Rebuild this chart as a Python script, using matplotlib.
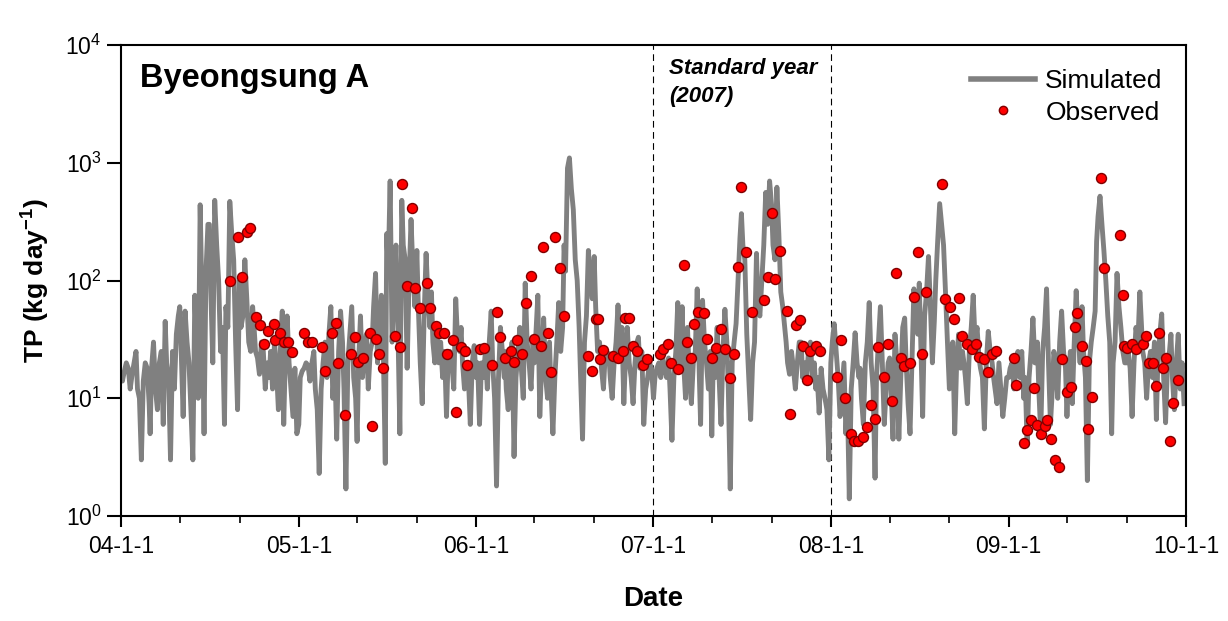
import matplotlib
matplotlib.use("Agg")
import matplotlib.pyplot as plt
import matplotlib.dates as mdates
from matplotlib.lines import Line2D
from matplotlib.ticker import FuncFormatter
import pandas as pd

plt.rcParams['font.family'] = ['Liberation Sans', 'DejaVu Sans']
plt.rcParams['mathtext.fontset'] = 'custom'
plt.rcParams['mathtext.rm'] = 'Liberation Sans'
plt.rcParams['mathtext.bf'] = 'Liberation Sans:bold'

# simulated TP load, 8 readings per month (days 1, 4, 8, 12, 16, 20, 24, 28)
sim_2004 = [16, 14, 17, 20, 18, 12, 16, 20,   25, 12, 10, 3, 14, 20, 18, 9,
            5, 18, 30, 12, 8, 20, 25, 6,      45, 20, 15, 3, 25, 12, 35, 50,
            60, 25, 7, 55, 30, 20, 8, 3,      75, 30, 10, 440, 60, 5, 120, 300,
            300, 80, 20, 480, 200, 100, 25, 40,  6, 60, 40, 470, 250, 150, 30, 8,
            100, 40, 50, 150, 70, 30, 25, 60,  40, 25, 22, 16, 30, 25, 12, 20,
            15, 25, 12, 30, 18, 8, 25, 55,    6, 20, 50, 20, 12, 7, 18, 5]
sim_2005 = [6, 15, 17, 18, 20, 19, 14, 20,    25, 12, 8, 2.3, 12, 20, 30, 15,
            20, 35, 60, 10, 20, 4.5, 25, 55,  30, 12, 1.7, 20, 35, 60, 15, 10,
            4.3, 20, 50, 15, 25, 35, 12, 25,  30, 60, 115, 20, 40, 75, 25, 2.8,
            250, 120, 700, 30, 80, 200, 40, 5,  480, 200, 150, 18, 100, 330, 120, 60,
            180, 60, 20, 9, 50, 170, 70, 40,  80, 30, 20, 40, 20, 30, 15, 25,
            7, 20, 25, 20, 12, 70, 30, 25,    40, 20, 12, 20, 15, 6, 20, 28]
sim_2006 = [15, 20, 6, 20, 15, 25, 12, 30,    55, 20, 10, 1.8, 15, 40, 25, 15,
            25, 12, 8, 20, 30, 3.2, 15, 25,   40, 18, 10, 95, 30, 20, 12, 30,
            20, 35, 75, 7, 20, 48, 15, 10,    30, 12, 5, 15, 30, 65, 25, 40,
            200, 120, 900, 1100, 600, 400, 150, 100,  40, 15, 4.5, 30, 50, 180, 100, 70,
            160, 60, 25, 30, 18, 12, 25, 20,  24, 15, 10, 20, 30, 62, 25, 40,
            9, 20, 40, 20, 15, 9, 20, 30,     33, 18, 25, 6, 12, 15, 20, 18]
sim_2007 = [10, 15, 18, 20, 15, 22, 18, 15,   22, 12, 4.4, 15, 25, 65, 20, 30,
            60, 20, 10, 40, 15, 9, 20, 25,    85, 25, 6, 68, 30, 20, 12, 25,
            4.8, 20, 15, 40, 15, 6, 25, 57,   30, 12, 1.7, 20, 30, 43, 100, 230,
            370, 200, 150, 35, 15, 6.6, 20, 30,  170, 60, 50, 100, 200, 560, 300, 700,
            440, 200, 150, 620, 250, 80, 60, 40,  30, 20, 16, 25, 18, 12, 20, 30,
            30, 15, 20, 15, 25, 30, 15, 20,   12, 15, 7.5, 18, 12, 10, 8, 3]
sim_2008 = [20, 30, 43, 25, 15, 7, 12, 20,    5, 10, 1.4, 12, 20, 36, 20, 15,
            18, 10, 6, 20, 30, 65, 20, 12,    2.1, 15, 30, 60, 20, 6, 12, 20,
            22, 12, 4.5, 35, 20, 4.5, 15, 40, 48, 20, 9, 5, 20, 85, 50, 35,
            95, 30, 7, 50, 80, 160, 60, 20,   45, 100, 220, 450, 300, 200, 80, 30,
            12, 25, 30, 5, 20, 35, 18, 25,    20, 15, 9, 25, 40, 75, 30, 40,
            22, 18, 15, 5.5, 20, 37, 25, 20,  15, 12, 9, 20, 12, 7, 10, 15]
sim_2009 = [15, 18, 20, 12, 18, 25, 15, 25,   10, 15, 4, 15, 25, 48, 20, 20,
            30, 12, 5, 25, 40, 85, 20, 6,     12, 25, 20, 10, 30, 55, 25, 18,
            7, 15, 25, 9, 30, 82, 35, 20,     60, 25, 15, 2, 20, 30, 40, 55,
            215, 350, 520, 300, 180, 100, 50, 30,  5, 20, 30, 115, 60, 40, 25, 20,
            20, 25, 18, 7, 20, 40, 30, 80,    45, 25, 20, 10, 20, 25, 15, 30,
            6.6, 20, 35, 52, 15, 6.2, 20, 25, 35, 15, 8, 20, 35, 12, 20, 9]
sim_years = [2004, 2005, 2006, 2007, 2008, 2009]
sim_days = [1, 4, 8, 12, 16, 20, 24, 28]

obs_dates = [
    '2004-08-12', '2004-08-28', '2004-09-07', '2004-09-16', '2004-09-22', '2004-10-04',
    '2004-10-13', '2004-10-21', '2004-10-29', '2004-11-11', '2004-11-14', '2004-11-23',
    '2004-12-01', '2004-12-10', '2004-12-18',
    '2005-01-12', '2005-01-20', '2005-01-29', '2005-02-17', '2005-02-24', '2005-03-10',
    '2005-03-18', '2005-03-23', '2005-04-07', '2005-04-18', '2005-04-27', '2005-05-03',
    '2005-05-13', '2005-05-27', '2005-05-31', '2005-06-09', '2005-06-15', '2005-06-23',
    '2005-07-19', '2005-07-28', '2005-08-02', '2005-08-11', '2005-08-21', '2005-08-29',
    '2005-09-07', '2005-09-21', '2005-09-29', '2005-10-10', '2005-10-17', '2005-10-27',
    '2005-11-03', '2005-11-14', '2005-11-21', '2005-11-30', '2005-12-09', '2005-12-13',
    '2006-01-09', '2006-01-18', '2006-02-02', '2006-02-12', '2006-02-20', '2006-03-01',
    '2006-03-13', '2006-03-19', '2006-03-27', '2006-04-05', '2006-04-13', '2006-04-23',
    '2006-05-01', '2006-05-14', '2006-05-18', '2006-05-28', '2006-06-05', '2006-06-13',
    '2006-06-22', '2006-07-01', '2006-08-20', '2006-08-28', '2006-09-04', '2006-09-08',
    '2006-09-12', '2006-09-20', '2006-10-10', '2006-10-19', '2006-10-30', '2006-11-03',
    '2006-11-12', '2006-11-20', '2006-11-29', '2006-12-10', '2006-12-18',
    '2007-01-14', '2007-01-21', '2007-01-30', '2007-02-07', '2007-02-20', '2007-03-05',
    '2007-03-12', '2007-03-19', '2007-03-26', '2007-04-03', '2007-04-14', '2007-04-22',
    '2007-05-01', '2007-05-09', '2007-05-20', '2007-05-28', '2007-06-07', '2007-06-16',
    '2007-06-24', '2007-07-01', '2007-07-10', '2007-07-22', '2007-08-16', '2007-08-25',
    '2007-09-01', '2007-09-09', '2007-09-18', '2007-10-02', '2007-10-10', '2007-10-21',
    '2007-10-29', '2007-11-04', '2007-11-12', '2007-11-20', '2007-12-01', '2007-12-09',
    '2008-01-14', '2008-01-21', '2008-01-30', '2008-02-11', '2008-02-18', '2008-02-26',
    '2008-03-08', '2008-03-15', '2008-03-24', '2008-04-01', '2008-04-08', '2008-04-19',
    '2008-04-27', '2008-05-05', '2008-05-15', '2008-05-24', '2008-05-31', '2008-06-12',
    '2008-06-21', '2008-06-28', '2008-07-06', '2008-07-14', '2008-08-16', '2008-08-24',
    '2008-09-02', '2008-09-10', '2008-09-20', '2008-09-28', '2008-10-07', '2008-10-17',
    '2008-10-26', '2008-11-01', '2008-11-11', '2008-11-19', '2008-11-27', '2008-12-06',
    '2009-01-12', '2009-01-17', '2009-02-01', '2009-02-07', '2009-02-15', '2009-02-22',
    '2009-02-28', '2009-03-08', '2009-03-16', '2009-03-20', '2009-03-30', '2009-04-06',
    '2009-04-14', '2009-04-20', '2009-05-02', '2009-05-09', '2009-05-17', '2009-05-21',
    '2009-05-31', '2009-06-09', '2009-06-14', '2009-06-21', '2009-07-11', '2009-07-17',
    '2009-08-18', '2009-08-24', '2009-08-27', '2009-09-02', '2009-09-11', '2009-09-20',
    '2009-10-04', '2009-10-10', '2009-10-17', '2009-10-25', '2009-10-31', '2009-11-06',
    '2009-11-14', '2009-11-20', '2009-11-29', '2009-12-05', '2009-12-16']
obs_values = [
    100, 233, 108, 260, 277, 49, 42, 29, 37, 43, 31, 36, 30, 30, 24.6,
    35.6, 30, 30, 27, 17, 35.6, 44, 19.8, 7.2, 23.6, 33, 20.4, 22, 35.6, 5.8, 32, 24, 18.2,
    34, 27, 656, 89, 410, 87, 59, 95, 59, 41, 35.6, 36, 23.6, 31.5, 7.7, 27, 25, 19,
    26, 26.6, 19, 54, 33, 22, 25, 20.4, 31, 24, 65, 110, 32, 28, 194, 35.6, 16.8, 233,
    127, 50, 23, 17, 47, 47, 21.4, 25.7, 22.9, 22, 25, 48, 48, 28, 25, 19, 21.4,
    24, 26, 29, 20, 17.6, 136, 30, 22, 43, 54, 52.6, 32, 22, 26.6, 39, 26, 15, 23.6,
    131, 627, 176, 54, 69, 108, 372, 104, 179, 55, 7.3, 42, 46, 28, 14.3, 25, 28, 25.4,
    15.2, 31, 10, 5.0, 4.3, 4.3, 4.7, 5.7, 8.7, 6.7, 27, 15.2, 29, 9.5, 117, 21.8, 18.8, 19.8,
    72, 176, 23.6, 80, 660, 70, 60, 47, 71, 34, 29, 26, 29, 22.5, 21.5, 16.8, 23.6, 25.4,
    22, 13, 4.2, 5.4, 6.5, 12.2, 5.9, 5.0, 5.8, 6.6, 4.5, 3.0, 2.6, 21.5, 11.4, 12.5, 40, 53,
    28, 20.9, 5.5, 10.3, 746, 128, 243, 76, 28, 26.6, 29, 26, 28.7, 34, 19.8, 19.8, 12.8, 36,
    18, 21.8, 4.3, 9.2, 14.3]

sim_values = sim_2004 + sim_2005 + sim_2006 + sim_2007 + sim_2008 + sim_2009
sim_dates = [pd.Timestamp(y, m, d) for y in sim_years for m in range(1, 13) for d in sim_days]
obs_t = pd.to_datetime(obs_dates)

fig = plt.figure(figsize=(12.28, 6.21), dpi=100)
ax = fig.add_axes([0.0985, 0.169, 0.8673, 0.7585])

ax.plot(sim_dates, sim_values, color='#808080', lw=3.5, zorder=2)
ax.plot(obs_t, obs_values, 'o', ms=7.2, mfc='#ff0000', mec='#800000', mew=1.0, zorder=3)

for d in ['2007-01-01', '2008-01-01']:
    ax.axvline(pd.Timestamp(d), color='black', lw=0.8, ls=(0, (6, 4)), zorder=1)

ax.set_yscale('log')
ax.set_ylim(1, 1e4)
ax.set_yticks([1, 10, 100, 1000, 10000])
ax.yaxis.set_minor_locator(plt.NullLocator())
ax.set_xlim(pd.Timestamp('2004-01-01'), pd.Timestamp('2010-01-01'))
ax.xaxis.set_major_locator(mdates.YearLocator())
ax.xaxis.set_minor_locator(mdates.MonthLocator(bymonth=[5, 9]))
ax.xaxis.set_major_formatter(FuncFormatter(
    lambda v, p: (lambda d: f"{d.year % 100:02d}-{d.month}-{d.day}")(mdates.num2date(v))))

for s in ax.spines.values():
    s.set_linewidth(1.5)
ax.tick_params(axis='both', which='major', direction='out', width=1.5, labelsize=16.5)
ax.tick_params(axis='y', which='major', length=10, pad=4)
ax.tick_params(axis='x', which='major', length=8, pad=6)
ax.tick_params(axis='x', which='minor', direction='out', length=5, width=1.2)

ax.set_ylabel('TP (kg day$^{\\mathbf{-1}}$)', fontsize=19, fontweight='bold', labelpad=10)
ax.set_xlabel('Date', fontsize=20, fontweight='bold', labelpad=20)

ax.text(0.018, 0.962, 'Byeongsung A', transform=ax.transAxes, fontsize=23.5,
        fontweight='bold', va='top', ha='left')
ax.text(pd.Timestamp('2007-02-02'), 7800, 'Standard year\n(2007)', fontsize=16,
        fontweight='bold', style='italic', va='top', ha='left', linespacing=1.45)

handles = [Line2D([], [], color='#808080', lw=4),
           Line2D([], [], ls='', marker='o', ms=6, mfc='#ff0000', mec='#800000', mew=1.0)]
ax.legend(handles, ['Simulated', 'Observed'], loc='upper right', bbox_to_anchor=(0.988, 0.972),
          frameon=False, fontsize=19, handlelength=2.4, handletextpad=0.4,
          labelspacing=0.3, borderaxespad=0)

fig.savefig('out.png', dpi=100)
